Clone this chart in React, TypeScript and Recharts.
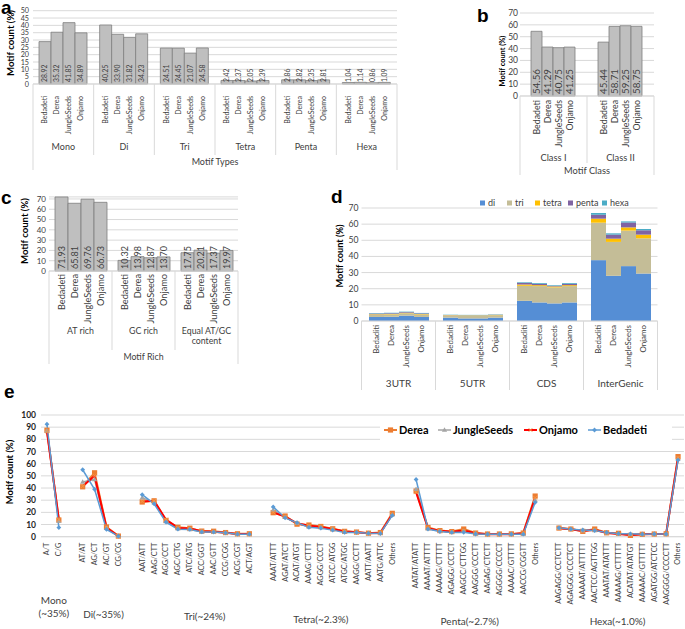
import React from "react";
import { Bar, BarChart, CartesianGrid, LabelList, Line, LineChart, XAxis, YAxis } from "recharts";

const FONT = "Lato, 'Noto Sans', sans-serif";
const NARROW = "'Liberation Sans Narrow', Lato, sans-serif";
const TEXT = "#404040";
const GRID = "#d9d9d9";
const BAR_FILL = "#bfbfbf";
const BAR_EDGE = "#7f7f7f";

const strains = ["Bedadeti", "Derea", "JungleSeeds", "Onjamo"];

// a - motif types
const motifTypes = ["Mono", "Di", "Tri", "Tetra", "Penta", "Hexa"];
const typeBedadeti = [28.92, 40.25, 24.51, 2.42, 2.86, 1.04];
const typeDerea = [35.32, 33.9, 24.45, 2.37, 2.82, 1.14];
const typeJungleSeeds = [41.85, 31.82, 21.07, 2.05, 2.35, 0.86];
const typeOnjamo = [34.89, 34.23, 24.58, 2.39, 2.81, 1.09];

// b - motif class
const motifClasses = ["Class I", "Class II"];
const classBedadeti = [54.56, 45.44];
const classDerea = [41.29, 58.71];
const classJungleSeeds = [40.75, 59.25];
const classOnjamo = [41.25, 58.75];

// c - motif rich
const richTypes = ["AT rich", "GC rich", "Equal AT/GC\ncontent"];
const richBedadeti = [71.93, 10.32, 17.75];
const richDerea = [65.81, 13.98, 20.21];
const richJungleSeeds = [69.76, 12.87, 17.37];
const richOnjamo = [66.73, 13.7, 19.97];

// d - genomic region, stacked by motif (rows = Bedaditi, Derea, JungleSeeds, Onjamo)
const regions = ["3UTR", "5UTR", "CDS", "InterGenic"];
const regionStrains = ["Bedaditi", "Derea", "JungleSeeds", "Onjamo"];
const motifs = ["di", "tri", "tetra", "penta", "hexa"];
const motifColors = ["#558ed5", "#c4bd97", "#ffc000", "#8064a2", "#4bacc6"];
const regionDi = [[2.5, 2.1, 12.5, 37.7], [2.6, 1.6, 11.5, 28.0], [3.3, 1.6, 10.9, 34.0], [2.5, 2.1, 11.5, 29.4]];
const regionTri = [[1.4, 1.3, 9.3, 23.2], [1.5, 1.7, 10.1, 21.0], [1.5, 1.7, 9.9, 22.0], [1.5, 1.5, 10.1, 21.8]];
const regionTetra = [[0.3, 0.2, 0.8, 2.5], [0.3, 0.2, 0.6, 2.0], [0.3, 0.2, 0.6, 2.0], [0.3, 0.2, 0.6, 2.3]];
const regionPenta = [[0.4, 0.1, 1.0, 2.4], [0.4, 0.1, 0.8, 2.5], [0.4, 0.1, 0.4, 3.0], [0.4, 0.1, 0.8, 2.7]];
const regionHexa = [[0.3, 0.2, 0.4, 1.1], [0.3, 0.2, 0.5, 0.8], [0.3, 0.2, 0.4, 0.7], [0.3, 0.2, 0.5, 0.8]];

// e - motif repeats, "" = gap between motif groups
const repeatNames = [
  "A/T", "C/G", "",
  "AT/AT", "AG/CT", "AC/GT", "CG/CG", "",
  "AAT/ATT", "AAG/CTT", "AGG/CCT", "AGC/CTG", "ATC/ATG", "ACC/GGT", "AAC/GTT", "CCG/CGG", "ACG/CGT", "ACT/AGT", "",
  "AAAT/ATTT", "AGAT/ATCT", "ACAT/ATGT", "AAAG/CTTT", "AGGG/CCCT", "ATCC/ATGG", "ATGC/ATGC", "AAGG/CCTT", "AATT/AATT", "AATG/ATTC", "Others", "",
  "AATAT/ATATT", "AAAAT/ATTTT", "AAAAG/CTTTT", "AGAGG/CCTCT", "AAGCC/CTTGG", "AAGGG/CCCTT", "AAGAG/CTCTT", "AGGGG/CCCCT", "AAAAC/GTTTT", "AACCG/CGGTT", "Others", "",
  "AAGAGG/CCTCTT", "AGAGGG/CCCTCT", "AAAAAT/ATTTTT", "AACTCC/AGTTGG", "AAATAT/ATATTT", "AAAAAG/CTTTTT", "ACATAT/ATATGT", "AAAAAC/GTTTTT", "AGATGG/ATCTCC", "AAGGGG/CCCCTT", "Others",
];
const repDerea = [
  87.5, 13.7, null,
  41, 52.5, 8, 0.5, null,
  28.5, 29.5, 13.4, 7.7, 7, 4.6, 4.5, 3.4, 2.4, 2.4, null,
  19.7, 17, 10.3, 9.6, 8.4, 6.5, 4.4, 3.8, 2.9, 3.4, 19.2, null,
  37.5, 7.5, 5, 4.2, 6.3, 3, 2.2, 2.2, 2.3, 3, 33.4, null,
  7.1, 6.3, 4.4, 6.3, 3.2, 2.8, 1.1, 2, 2.2, 2.4, 65.8,
];
const repJungleSeeds = [
  87, 13, null,
  45, 47, 7, 0.5, null,
  32, 28, 12.5, 6.5, 6, 4, 3.8, 3.2, 2.1, 2.1, null,
  22, 16, 11, 8, 7.5, 6, 4, 3.6, 2.8, 3, 18, null,
  39, 6.5, 4.5, 3.6, 4.5, 2.5, 2, 2, 2.1, 2.3, 30, null,
  7, 6.2, 5, 5.2, 3.3, 2.5, 2, 2, 2.2, 2.2, 64,
];
const repOnjamo = [
  86.5, 14, null,
  41.5, 50, 7.5, 0.5, null,
  29, 29.5, 14, 7.2, 6.8, 4.4, 4, 3.3, 2.2, 2.2, null,
  20, 16.5, 11, 9, 8, 6.4, 4.2, 3.7, 2.8, 3.1, 18.5, null,
  36.5, 7, 4.8, 4, 5, 2.8, 2, 2, 2.1, 2.8, 32, null,
  7, 6.2, 4.6, 5.7, 3, 2.2, 1.5, 2, 2.2, 2.3, 65,
];
const repBedadeti = [
  92.5, 7.5, null,
  55, 39, 6, 0.4, null,
  34.5, 27, 12, 6.2, 6, 3.9, 3.8, 3.2, 2.1, 2.1, null,
  24.5, 15.5, 11.5, 7.7, 7, 5.4, 3.5, 3.5, 2.8, 2.6, 17.5, null,
  47, 6.3, 4.2, 3.5, 3.6, 2.2, 2, 2, 2, 2.1, 28.2, null,
  7.3, 6.2, 5.6, 5, 3.5, 2.5, 2.4, 2, 2.2, 2.2, 63,
];
const repeatGroups = [
  { label: "Mono\n(~35%)", at: "C/G", dx: -5, dy: 67 },
  { label: "Di(~35%)", at: "AC/GT", dx: -3, dy: 81 },
  { label: "Tri(~24%)", at: "ACC/GGT", dx: 3, dy: 83 },
  { label: "Tetra(~2.3%)", at: "AGGG/CCCT", dx: 0, dy: 86 },
  { label: "Penta(~2.7%)", at: "AAGCC/CTTGG", dx: 6, dy: 88 },
  { label: "Hexa(~1.0%)", at: "AAAAAG/CTTTTT", dx: -1, dy: 88 },
];
const lineSeries = [
  { key: "Derea", color: "#ed7d31", width: 2, marker: "square" },
  { key: "JungleSeeds", color: "#a5a5a5", width: 1.5, marker: "triangle" },
  { key: "Onjamo", color: "#ff0000", width: 2, marker: "x" },
  { key: "Bedadeti", color: "#5b9bd5", width: 1.5, marker: "diamond" },
];

const toRows = (cats: string[], series: number[][]) =>
  cats.map((cat, i) => {
    const row: any = { cat };
    strains.forEach((s, j) => (row[s] = series[j][i]));
    return row;
  });

const typeRows = toRows(motifTypes, [typeBedadeti, typeDerea, typeJungleSeeds, typeOnjamo]);
const classRows = toRows(motifClasses, [classBedadeti, classDerea, classJungleSeeds, classOnjamo]);
const richRows = toRows(richTypes, [richBedadeti, richDerea, richJungleSeeds, richOnjamo]);

const regionStacks = [regionDi, regionTri, regionTetra, regionPenta, regionHexa];
const regionRows = regions.map((cat, r) => {
  const row: any = { cat };
  regionStrains.forEach((s, si) => motifs.forEach((m, mi) => (row[`${s}_${m}`] = regionStacks[mi][si][r])));
  return row;
});

const repeatRows = repeatNames.map((cat, i) => ({
  cat,
  Derea: repDerea[i],
  JungleSeeds: repJungleSeeds[i],
  Onjamo: repOnjamo[i],
  Bedadeti: repBedadeti[i],
}));

const boxOf = (p: any) => {
  const vb = p.viewBox && p.viewBox.width != null ? p.viewBox : p;
  return { x: Number(vb.x), y: Number(vb.y), w: Number(vb.width), h: Number(vb.height) };
};

const vText = (x: number, y: number, size: number, txt: string, anchor: string, extra: any = {}) => (
  <text
    transform={`translate(${x + size * 0.35},${y}) rotate(-90)`}
    textAnchor={anchor}
    fontSize={size}
    fontFamily={FONT}
    fill={TEXT}
    {...extra}
  >
    {txt}
  </text>
);

function GroupedBars({ rows, cfg }: { rows: any[]; cfg: any }) {
  const n = rows.length;
  const band = (cfg.width - cfg.yWidth - cfg.right) / n;

  const tick = (p: any) => {
    const lines = String(p.payload.value).split("\n");
    const sx = p.x - band / 2;
    return (
      <g>
        {lines.map((l, i) => (
          <text key={i} x={p.x} y={p.y + cfg.groupDy + i * cfg.groupFont * 1.15} textAnchor="middle" fontSize={cfg.groupFont} fontFamily={FONT} fill={TEXT}>
            {l}
          </text>
        ))}
        <line x1={sx} x2={sx} y1={p.y} y2={p.y + (p.index === 0 ? cfg.outerSep : cfg.innerSep)} stroke={GRID} />
        {p.index === n - 1 && <line x1={sx + band} x2={sx + band} y1={p.y} y2={p.y + cfg.outerSep} stroke={GRID} />}
      </g>
    );
  };

  const barLabel = (name: string) => (p: any) => {
    const b = boxOf(p);
    const cx = b.x + b.w / 2;
    const base = b.y + b.h;
    return (
      <g>
        {vText(cx, base - 2, cfg.valueFont, Number(p.value).toFixed(2), "start")}
        {vText(cx, base + cfg.nameDy, cfg.nameFont, name, "end")}
      </g>
    );
  };

  return (
    <div style={{ position: "absolute", left: cfg.left, top: cfg.top }}>
      <BarChart
        width={cfg.width}
        height={cfg.height}
        data={rows}
        margin={{ top: cfg.topPad, right: cfg.right, bottom: 0, left: 0 }}
        barCategoryGap={cfg.gap}
        barGap={0}
      >
        <CartesianGrid vertical={false} stroke={GRID} />
        <XAxis
          dataKey="cat"
          height={cfg.xHeight}
          interval={0}
          tickLine={false}
          tickSize={0}
          tickMargin={0}
          axisLine={{ stroke: GRID }}
          tick={tick}
          label={{ value: cfg.title, position: "insideBottom", offset: cfg.titleOffset, fontSize: cfg.groupFont, fontFamily: FONT, fill: TEXT }}
        />
        <YAxis
          width={cfg.yWidth}
          domain={cfg.domain}
          ticks={cfg.ticks}
          interval={0}
          axisLine={false}
          tickLine={false}
          tickSize={0}
          tickMargin={cfg.tickMargin}
          tick={{ fontSize: cfg.tickFont, fill: TEXT, fontFamily: FONT }}
        />
        {strains.map((s) => (
          <Bar key={s} dataKey={s} fill={BAR_FILL} stroke={BAR_EDGE} strokeWidth={0.8} isAnimationActive={false}>
            <LabelList dataKey={s} content={barLabel(s)} />
          </Bar>
        ))}
      </BarChart>
    </div>
  );
}

const cfgA = {
  left: 0, top: 0, width: 400, height: 175, yWidth: 33, right: 3, topPad: 10.7, xHeight: 91,
  domain: [0, 50], ticks: [0, 5, 10, 15, 20, 25, 30, 35, 40, 45, 50], tickFont: 7.2, tickMargin: 4,
  gap: 6, valueFont: 6.8, nameFont: 7.1, nameDy: 12, groupFont: 9, groupDy: 66,
  innerSep: 71, outerSep: 86, title: "Motif Types", titleOffset: 10,
};
const cfgB = {
  left: 490, top: 0, width: 170, height: 180, yWidth: 30, right: 6, topPad: 13, xHeight: 84,
  domain: [0, 70], ticks: [0, 10, 20, 30, 40, 50, 60, 70], tickFont: 8.5, tickMargin: 2,
  gap: 11, valueFont: 9.8, nameFont: 8.8, nameDy: 4, groupFont: 9.3, groupDy: 64.5,
  innerSep: 67, outerSep: 79, title: "Motif Class", titleOffset: 6.5,
};
const cfgC = {
  left: 0, top: 190, width: 245, height: 180, yWidth: 49, right: 7, topPad: 6.9, xHeight: 99,
  domain: [0, 72], ticks: [0, 10, 20, 30, 40, 50, 60, 70], tickFont: 8, tickMargin: 3,
  gap: 6, valueFont: 9, nameFont: 9.2, nameDy: 3, groupFont: 8.8, groupDy: 63,
  innerSep: 79, outerSep: 93, title: "Motif Rich", titleOffset: 10,
};

function RegionChart() {
  const width = 365;
  const yWidth = 61.5;
  const right = 7.5;
  const band = (width - yWidth - right) / regions.length;

  const tick = (p: any) => {
    const sx = p.x - band / 2;
    return (
      <g>
        <text x={p.x} y={p.y + 65.5} textAnchor="middle" fontSize={10} fontFamily={FONT} fill={TEXT}>
          {p.payload.value}
        </text>
        <line x1={sx} x2={sx} y1={p.y} y2={p.y + 69} stroke={GRID} />
        {p.index === regions.length - 1 && <line x1={sx + band} x2={sx + band} y1={p.y} y2={p.y + 69} stroke={GRID} />}
      </g>
    );
  };

  const nameLabel = (name: string) => (p: any) => {
    const b = boxOf(p);
    return vText(b.x + b.w / 2, b.y + b.h + 4, 7.9, name, "end");
  };

  return (
    <div style={{ position: "absolute", left: 300, top: 195 }}>
      <BarChart width={width} height={200} data={regionRows} margin={{ top: 13, right, bottom: 0, left: 0 }} barCategoryGap={7.5} barGap={0}>
        <CartesianGrid vertical={false} stroke={GRID} />
        <XAxis dataKey="cat" height={74} interval={0} tickLine={false} tickSize={0} tickMargin={0} axisLine={{ stroke: GRID }} tick={tick} />
        <YAxis
          width={yWidth}
          domain={[0, 70]}
          ticks={[0, 10, 20, 30, 40, 50, 60, 70]}
          interval={0}
          axisLine={false}
          tickLine={false}
          tickSize={0}
          tickMargin={3}
          tick={{ fontSize: 8.6, fill: TEXT, fontFamily: FONT }}
        />
        {regionStrains.map((s) =>
          motifs.map((m, mi) => (
            <Bar key={`${s}_${m}`} dataKey={`${s}_${m}`} stackId={s} fill={motifColors[mi]} isAnimationActive={false}>
              {mi === 0 && <LabelList dataKey={`${s}_${m}`} content={nameLabel(s)} />}
            </Bar>
          ))
        )}
      </BarChart>
    </div>
  );
}

const marker = (kind: string, color: string, cx: number, cy: number) => {
  if (kind === "square") return <rect x={cx - 2.6} y={cy - 2.6} width={5.2} height={5.2} fill={color} />;
  if (kind === "triangle")
    return <path d={`M${cx},${cy - 2.8}L${cx + 2.6},${cy + 1.8}L${cx - 2.6},${cy + 1.8}Z`} fill={color} />;
  if (kind === "x")
    return (
      <path d={`M${cx - 1.8},${cy - 1.8}L${cx + 1.8},${cy + 1.8}M${cx + 1.8},${cy - 1.8}L${cx - 1.8},${cy + 1.8}`} stroke="#f79646" strokeWidth={1} />
    );
  return <path d={`M${cx},${cy - 2.4}L${cx + 2.4},${cy}L${cx},${cy + 2.4}L${cx - 2.4},${cy}Z`} fill={color} />;
};

function RepeatChart() {
  const tick = (p: any) => {
    const name = String(p.payload.value);
    const grp = repeatGroups.find((g) => g.at === name);
    return (
      <g>
        <text
          transform={`translate(${p.x + 2.4},${p.y + 6}) rotate(-90)`}
          textAnchor="end"
          fontSize={7.3}
          fontFamily={NARROW}
          fill={TEXT}
        >
          {name}
        </text>
        {grp &&
          grp.label.split("\n").map((l, i) => (
            <text key={i} x={p.x + grp.dx} y={p.y + grp.dy + i * 13} textAnchor="middle" fontSize={10} fontFamily={FONT} fill={TEXT}>
              {l}
            </text>
          ))}
      </g>
    );
  };

  return (
    <div style={{ position: "absolute", left: 0, top: 405 }}>
      <LineChart width={685} height={224} data={repeatRows} margin={{ top: 10, right: 1, bottom: 0, left: 0 }}>
        <CartesianGrid vertical={false} stroke={GRID} />
        <XAxis
          dataKey="cat"
          height={92.3}
          interval={0}
          padding={{ left: 5.95, right: 5.95 }}
          tickLine={false}
          tickSize={0}
          tickMargin={0}
          axisLine={{ stroke: GRID }}
          tick={tick}
        />
        <YAxis
          width={41}
          domain={[0, 100]}
          ticks={[0, 10, 20, 30, 40, 50, 60, 70, 80, 90, 100]}
          interval={0}
          axisLine={false}
          tickLine={false}
          tickSize={0}
          tickMargin={5}
          tick={{ fontSize: 8.5, fill: "#262626", fontFamily: FONT, fontWeight: 700 }}
        />
        {lineSeries.map((s) => (
          <Line
            key={s.key}
            type="linear"
            dataKey={s.key}
            stroke={s.color}
            strokeWidth={s.width}
            connectNulls={false}
            isAnimationActive={false}
            activeDot={false}
            dot={(p: any) =>
              p.cx == null || p.cy == null || p.value == null ? (
                <g key={p.index} />
              ) : (
                <g key={p.index}>{marker(s.marker, s.color, p.cx, p.cy)}</g>
              )
            }
          />
        ))}
      </LineChart>
    </div>
  );
}

function Overlay() {
  const letter = (x: number, y: number, t: string) => (
    <text x={x} y={y} fontSize={19} fontWeight={700} fontFamily="'Liberation Sans', Arial, sans-serif" fill="#000">
      {t}
    </text>
  );
  const yTitle = (x: number, y: number, size: number) => (
    <text transform={`translate(${x + size * 0.35},${y}) rotate(-90)`} textAnchor="middle" fontSize={size} fontWeight={700} fontFamily={FONT} fill="#000">
      Motif count (%)
    </text>
  );
  const dLegendX = [480, 507, 535, 568, 602];
  const eLegendX = [384, 438, 524, 588];
  return (
    <svg width={685} height={629} style={{ position: "absolute", left: 0, top: 0, pointerEvents: "none" }}>
      {letter(1, 14, "a")}
      {letter(477, 22, "b")}
      {letter(1, 204, "c")}
      {letter(331, 203, "d")}
      {letter(4, 398, "e")}
      {yTitle(11, 43, 9.6)}
      {yTitle(502, 61, 7.4)}
      {yTitle(25, 231, 9.6)}
      {yTitle(340, 256, 9.2)}
      {yTitle(10, 472, 9.4)}
      {motifs.map((m, i) => (
        <g key={m}>
          <rect x={dLegendX[i]} y={200.5} width={5} height={5} fill={motifColors[i]} />
          <text x={dLegendX[i] + 8} y={206} fontSize={9} fontFamily={FONT} fill={TEXT}>
            {m}
          </text>
        </g>
      ))}
      <rect x={380} y={420} width={292} height={21} fill="#fff" />
      {lineSeries.map((s, i) => (
        <g key={s.key}>
          <line x1={eLegendX[i]} x2={eLegendX[i] + 13} y1={430} y2={430} stroke={s.color} strokeWidth={s.width} />
          {marker(s.marker, s.color, eLegendX[i] + 6.5, 430)}
          <text x={eLegendX[i] + 15} y={434} fontSize={11} fontWeight={700} fontFamily={FONT} fill="#000">
            {s.key}
          </text>
        </g>
      ))}
    </svg>
  );
}

export default function App() {
  return (
    <div style={{ position: "absolute", left: 0, top: 0, width: 685, height: 629, background: "#fff", fontFamily: FONT, overflow: "hidden" }}>
      <GroupedBars rows={typeRows} cfg={cfgA} />
      <GroupedBars rows={classRows} cfg={cfgB} />
      <GroupedBars rows={richRows} cfg={cfgC} />
      <RegionChart />
      <RepeatChart />
      <Overlay />
    </div>
  );
}
